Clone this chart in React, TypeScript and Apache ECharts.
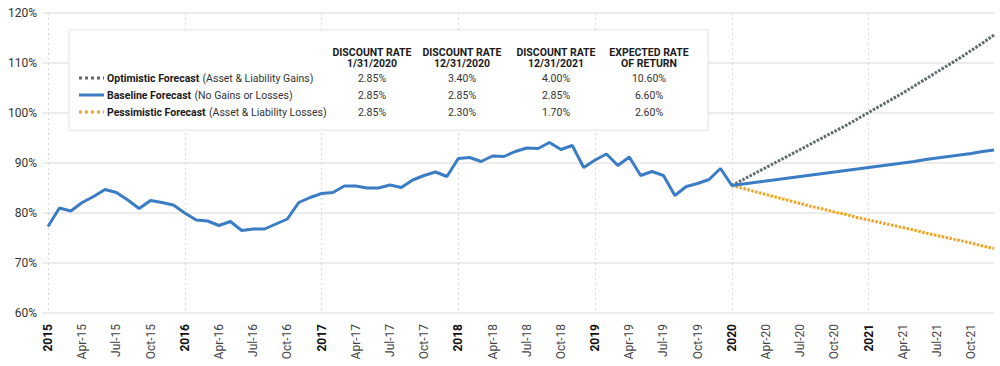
import React, { useEffect, useRef } from "react";
import * as echarts from "echarts";

const YEARS = [2015, 2016, 2017, 2018, 2019, 2020, 2021];
const MONTHS = ["Jan", "Feb", "Mar", "Apr", "May", "Jun", "Jul", "Aug", "Sep", "Oct", "Nov", "Dec"];
const CATEGORIES: string[] = [];
YEARS.forEach((y) => MONTHS.forEach((m) => CATEGORIES.push(`${m}-${String(y).slice(2)}`)));

const Y_TICKS = { min: 60, max: 120, interval: 10 };

// Funded ratio history, Jan 2015 - Jan 2020 (monthly)
const HISTORY = [
  77.3, 81.0, 80.4, 82.1, 83.3, 84.7, 84.1, 82.6, 80.9, 82.5, 82.1, 81.6,
  80.0, 78.6, 78.4, 77.5, 78.3, 76.5, 76.8, 76.8, 77.8, 78.8, 82.1, 83.1,
  83.9, 84.1, 85.4, 85.4, 85.0, 85.0, 85.6, 85.1, 86.6, 87.5, 88.2, 87.3,
  90.9, 91.1, 90.3, 91.4, 91.3, 92.3, 93.0, 92.9, 94.1, 92.7, 93.5, 89.1,
  90.6, 91.8, 89.5, 91.2, 87.5, 88.3, 87.5, 83.5, 85.3, 85.9, 86.7, 88.9,
  85.5,
];

// Forecasts, Jan 2020 - Dec 2021 (monthly)
const BASELINE_FC = [
  85.5, 85.8, 86.1, 86.4, 86.7, 87.0, 87.3, 87.6, 87.9, 88.2, 88.5, 88.8,
  89.1, 89.4, 89.7, 90.0, 90.3, 90.7, 91.0, 91.3, 91.6, 91.9, 92.3, 92.6,
];
const OPTIMISTIC_FC = [
  85.5, 86.7, 87.9, 89.1, 90.3, 91.5, 92.7, 93.9, 95.1, 96.3, 97.5, 98.8,
  100.1, 101.4, 102.7, 104.0, 105.4, 106.8, 108.2, 109.6, 111.0, 112.5, 114.0, 115.6,
];
const PESSIMISTIC_FC = [
  85.5, 84.9, 84.3, 83.7, 83.1, 82.5, 81.9, 81.3, 80.8, 80.2, 79.7, 79.1,
  78.6, 78.1, 77.6, 77.1, 76.6, 76.0, 75.5, 75.0, 74.5, 74.0, 73.4, 72.9,
];

const TABLE_HEADERS = [
  ["DISCOUNT RATE", "1/31/2020"],
  ["DISCOUNT RATE", "12/31/2020"],
  ["DISCOUNT RATE", "12/31/2021"],
  ["EXPECTED RATE", "OF RETURN"],
];
const TABLE_ROWS = [
  { name: "Optimistic Forecast", note: "(Asset & Liability Gains)", values: ["2.85%", "3.40%", "4.00%", "10.60%"] },
  { name: "Baseline Forecast", note: "(No Gains or Losses)", values: ["2.85%", "2.85%", "2.85%", "6.60%"] },
  { name: "Pessimistic Forecast", note: "(Asset & Liability Losses)", values: ["2.85%", "2.30%", "1.70%", "2.60%"] },
];

const BLUE = "#3b7cc4";
const GRAY = "#5d696b";
const ORANGE = "#f6a21c";
const FONT = "Roboto, 'Noto Sans', sans-serif";
const TFS = 10.5;

export default function App() {
  const ref = useRef<HTMLDivElement>(null);

  useEffect(() => {
    if (!ref.current) return;
    const chart = echarts.init(ref.current, undefined, { renderer: "svg" });

    const startFc = HISTORY.length - 1;
    const blueData = [...HISTORY, ...BASELINE_FC.slice(1)];
    const pad = (arr: number[]) => [...Array(startFc).fill(null), ...arr];

    const colX = [372, 462, 556, 649];
    const rowY = [78, 95, 112];
    const colors = [GRAY, BLUE, ORANGE];
    const dashes: any[] = [[3, 3], null, [3, 3]];

    const graphics: any[] = [
      {
        type: "rect",
        shape: { x: 69, y: 30, width: 639, height: 100 },
        style: { fill: "#ffffff", stroke: "#e4e4e4", lineWidth: 1, shadowBlur: 3, shadowColor: "rgba(0,0,0,0.06)" },
        z: 100,
      },
    ];
    TABLE_HEADERS.forEach((h, i) => {
      graphics.push({
        type: "text",
        x: colX[i],
        y: 47,
        z: 101,
        style: {
          text: h.join("\n"),
          align: "center",
          verticalAlign: "top",
          fontFamily: FONT,
          fontWeight: "bold",
          fontSize: TFS,
          lineHeight: 11,
          fill: "#1a1a1a",
        },
      });
    });
    TABLE_ROWS.forEach((r, ri) => {
      const y = rowY[ri];
      const ls: any = { stroke: colors[ri], lineWidth: 3 };
      if (dashes[ri]) ls.lineDash = dashes[ri];
      graphics.push({
        type: "line",
        z: 101,
        shape: { x1: 79, y1: y, x2: 104, y2: y },
        style: ls,
      });
      graphics.push({
        type: "text",
        x: 107,
        y,
        z: 101,
        style: {
          text: `{b|${r.name}} {r|${r.note}}`,
          verticalAlign: "middle",
          rich: {
            b: { fontFamily: FONT, fontWeight: "bold", fontSize: TFS, fill: "#1a1a1a" },
            r: { fontFamily: FONT, fontSize: TFS, fill: "#333" },
          },
        },
      });
      r.values.forEach((v, ci) => {
        graphics.push({
          type: "text",
          x: colX[ci],
          y,
          z: 101,
          style: {
            text: v,
            align: "center",
            verticalAlign: "middle",
            fontFamily: FONT,
            fontSize: TFS,
            fill: "#333",
          },
        });
      });
    });

    chart.setOption({
      animation: false,
      textStyle: { fontFamily: FONT },
      grid: { left: 48, right: 6, top: 13, bottom: 53, containLabel: false },
      xAxis: {
        type: "category",
        data: CATEGORIES,
        boundaryGap: false,
        axisLine: { show: false },
        axisTick: { show: false },
        axisLabel: {
          interval: (idx: number) => idx % 3 === 0,
          rotate: 90,
          margin: 11,
          fontFamily: FONT,
          fontSize: 12,
          color: "#444",
          formatter: (value: string, idx: number) =>
            idx % 12 === 0 ? `{y|${YEARS[idx / 12]}}` : value,
          rich: { y: { fontFamily: FONT, fontWeight: "bold", fontSize: 12, color: "#111" } },
        },
        splitLine: {
          show: true,
          interval: (idx: number) => idx % 12 === 0,
          lineStyle: { color: "#d9d9d9", type: [2, 3], width: 1 },
        },
      },
      yAxis: {
        type: "value",
        min: Y_TICKS.min,
        max: Y_TICKS.max,
        interval: Y_TICKS.interval,
        axisLine: { show: false },
        axisTick: { show: true, length: 5, lineStyle: { color: "#e6e6e6", width: 1.5 } },
        axisLabel: {
          formatter: "{value}%",
          margin: 11,
          fontFamily: FONT,
          fontSize: 12,
          color: "#333",
        },
        splitLine: { lineStyle: { color: "#e6e6e6", width: 1.5 } },
      },
      series: [
        {
          name: "Optimistic Forecast",
          type: "line",
          data: pad(OPTIMISTIC_FC),
          showSymbol: false,
          lineStyle: { color: GRAY, width: 3, type: [2.5, 1.5] },
          itemStyle: { color: GRAY },
          z: 2,
        },
        {
          name: "Pessimistic Forecast",
          type: "line",
          data: pad(PESSIMISTIC_FC),
          showSymbol: false,
          lineStyle: { color: ORANGE, width: 3, type: [2.5, 1.5] },
          itemStyle: { color: ORANGE },
          z: 2,
        },
        {
          name: "Baseline Forecast",
          type: "line",
          data: blueData,
          showSymbol: false,
          lineStyle: { color: BLUE, width: 3 },
          itemStyle: { color: BLUE },
          z: 3,
        },
      ],
      graphic: graphics,
    });

    return () => chart.dispose();
  }, []);

  return <div ref={ref} style={{ width: 1000, height: 366, position: "absolute", left: 0, top: 0 }} />;
}
